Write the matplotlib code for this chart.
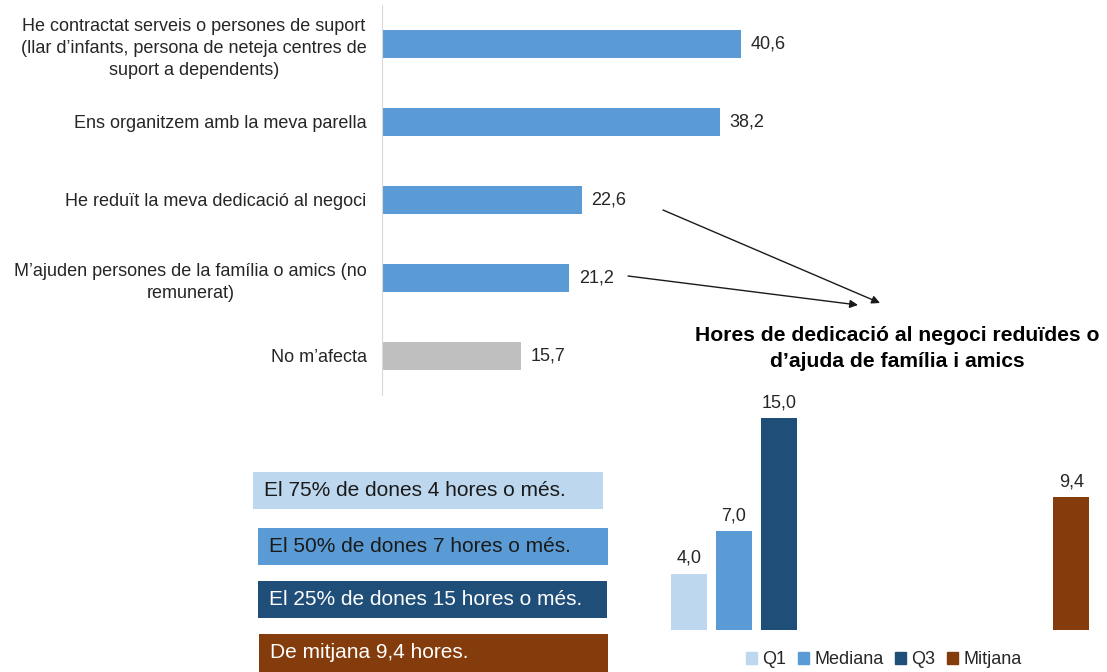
import matplotlib.pyplot as plt
from matplotlib.patches import Rectangle, Patch

plt.rcParams['font.family'] = ['Liberation Sans', 'DejaVu Sans']

# Data
categories = [
    "He contractat serveis o persones de suport\n(llar d\u2019infants, persona de neteja centres de\nsuport a dependents)",
    "Ens organitzem amb la meva parella",
    "He redu\u00eft la meva dedicaci\u00f3 al negoci",
    "M\u2019ajuden persones de la fam\u00edlia o amics (no\nremunerat)",
    "No m\u2019afecta",
]
values = [40.6, 38.2, 22.6, 21.2, 15.7]
bar_colors = ["#5B9BD5", "#5B9BD5", "#5B9BD5", "#5B9BD5", "#BFBFBF"]

hour_labels = ["Q1", "Mediana", "Q3", "Mitjana"]
hour_values = [4.0, 7.0, 15.0, 9.4]
hour_colors = ["#BDD7EE", "#5B9BD5", "#1F4E79", "#843C0C"]

box_texts = [
    "El 75% de dones 4 hores o m\u00e9s.",
    "El 50% de dones 7 hores o m\u00e9s.",
    "El 25% de dones 15 hores o m\u00e9s.",
    "De mitjana 9,4 hores.",
]
box_text_colors = ["#1a1a1a", "#1a1a1a", "white", "white"]

title2 = "Hores de dedicaci\u00f3 al negoci redu\u00efdes o\nd\u2019ajuda de fam\u00edlia i amics"

W, H = 1107, 672
fig = plt.figure(figsize=(W / 100, H / 100), dpi=100)


def px_axes(x0, y0, x1, y1):
    # axes from pixel box (top-left origin)
    return fig.add_axes([x0 / W, 1 - y1 / H, (x1 - x0) / W, (y1 - y0) / H])


# Top horizontal bar chart
ax1 = px_axes(382, 5, 824, 395)
ypos = list(range(len(values)))
ax1.barh(ypos, values, height=0.35, color=bar_colors)
ax1.set_xlim(0, 50)
ax1.set_ylim(4.5, -0.5)
ax1.set_yticks(ypos)
ax1.set_yticklabels(categories, fontsize=13, color="#262626",
                    multialignment="center", linespacing=1.4)
ax1.tick_params(axis="y", length=0, pad=11)
ax1.set_xticks([])
for s in ["top", "right", "bottom"]:
    ax1.spines[s].set_visible(False)
ax1.spines["left"].set_color("#D9D9D9")
for y, v in zip(ypos, values):
    ax1.text(v + 1.1, y, f"{v:.1f}".replace(".", ","), va="center", ha="left",
             fontsize=13, color="#262626")

# Bottom right vertical bar chart
ax2 = px_axes(650, 380, 1107, 630)
xpos = [0, 1, 2, 8.5]
ax2.bar(xpos, hour_values, width=0.8, color=hour_colors)
ax2.set_xlim(-0.867, 9.29)
ax2.set_ylim(0, 17.7)
ax2.axis("off")
for x, v in zip(xpos, hour_values):
    ax2.text(x, v + 0.5, f"{v:.1f}".replace(".", ","), ha="center", va="bottom",
             fontsize=13, color="#262626")

handles = [Patch(color=c, label=l) for c, l in zip(hour_colors, hour_labels)]
fig.legend(handles=handles, loc="center", bbox_to_anchor=(884 / W, 1 - 660 / H),
           ncol=4, frameon=False, fontsize=13, handlelength=0.6, handleheight=0.6,
           handletextpad=0.3, columnspacing=0.65, labelcolor="#262626")

fig.text(897 / W, 1 - 348.5 / H, title2, ha="center", va="center", fontsize=15.2,
         fontweight="bold", color="black", linespacing=1.45)

# overlay for boxes and arrows
ov = fig.add_axes([0, 0, 1, 1], zorder=5)
ov.set_xlim(0, W)
ov.set_ylim(H, 0)
ov.axis("off")
ov.patch.set_alpha(0)

boxes = [(253, 472, 603, 509), (258, 528, 608, 565), (258, 581, 607, 618), (259, 634, 608, 672)]
for (x0, y0, x1, y1), t, c, tc in zip(boxes, box_texts, hour_colors, box_text_colors):
    ov.add_patch(Rectangle((x0, y0), x1 - x0, y1 - y0, facecolor=c, edgecolor="none"))
    ov.text(x0 + 11, (y0 + y1) / 2, t, ha="left", va="center", fontsize=15, color=tc)

arrow_kw = dict(arrowstyle="-|>", color="#1a1a1a", lw=1.0, mutation_scale=12,
                shrinkA=0, shrinkB=0)
ov.annotate("", xy=(880, 303), xytext=(663, 210), arrowprops=arrow_kw)
ov.annotate("", xy=(858, 305), xytext=(628, 276), arrowprops=arrow_kw)

fig.savefig("out.png", dpi=100)
